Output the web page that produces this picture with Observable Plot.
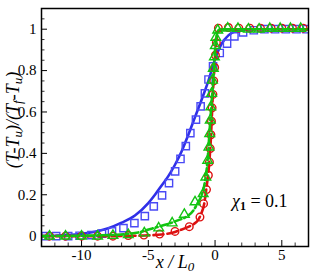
<!DOCTYPE html>
<html><head><meta charset="utf-8">
<script src="https://cdn.jsdelivr.net/npm/d3@7"></script>
<script src="https://cdn.jsdelivr.net/npm/@observablehq/plot@0.6"></script>
<style>body{margin:0;background:#fff}</style>
</head><body><div id="chart"></div>
<script>
// ---- data ----
const blueLineX = [-13, -12, -11, -10, -9, -8, -7, -6, -5, -4.5, -4, -3.5, -3, -2.5, -2, -1.5, -1, -0.5, 0, 0.5, 1, 1.5, 2, 3, 4, 5, 6, 7];
const blueLineY = [0, 0.002, 0.005, 0.011, 0.021, 0.038, 0.065, 0.1, 0.16, 0.2, 0.245, 0.29, 0.345, 0.41, 0.49, 0.575, 0.66, 0.75, 0.855, 0.93, 0.97, 0.99, 0.997, 1, 1, 1, 1, 1];

const blueSqX = [-12.7, -11.9, -11.0, -10.15, -9.26, -8.47, -7.72, -6.86, -6.04, -5.26, -4.59, -3.97, -3.45, -2.99, -2.59, -2.19, -1.85, -1.43, -1.08, -0.76, -0.49, -0.15, 0.35, 0.9, 1.45, 2.1, 2.9, 3.7, 4.5, 5.3, 6.1, 6.85];
const blueSqY = [0, 0, 0, 0.002, 0.005, 0.012, 0.023, 0.039, 0.063, 0.097, 0.144, 0.197, 0.256, 0.313, 0.373, 0.435, 0.498, 0.563, 0.627, 0.69, 0.757, 0.82, 0.885, 0.93, 0.965, 0.985, 0.995, 1, 1, 1, 1, 1];

const redLineX = [-13, -8, -6, -5, -4, -3, -2.8, -2, -1.56, -1.3, -1.06, -0.81, -0.64, -0.44, -0.32, -0.24, -0.15, -0.04, 0.05, 0.15, 0.3, 0.6, 1, 7];
const redLineY = [0, 0, 0.002, 0.004, 0.008, 0.02, 0.025, 0.045, 0.06, 0.075, 0.105, 0.157, 0.235, 0.35, 0.463, 0.576, 0.705, 0.818, 0.914, 0.97, 0.995, 1, 1, 1];

const redCircX = [-12.4, -11.2, -10.0, -8.8, -7.65, -6.5, -5.33, -4.15, -3.0, -1.93, -1.13, -0.86, -0.64, -0.5, -0.42, -0.36, -0.31, -0.27, -0.22, -0.16, -0.1, -0.03, 0.03, 0.1, 0.25, 1.0, 1.78, 2.6, 3.4, 4.2, 5.0, 5.8, 6.6];
const redCircY = [0, 0, 0, 0, 0, 0.003, 0.005, 0.01, 0.023, 0.046, 0.092, 0.157, 0.225, 0.294, 0.358, 0.423, 0.49, 0.555, 0.62, 0.685, 0.75, 0.815, 0.874, 0.935, 1.005, 1.008, 1.005, 1.005, 1.005, 1.005, 1.005, 1.005, 1.005];

const greenLineX = [-13, -8, -6, -4.76, -4, -2.79, -2, -1.67, -1.3, -1.06, -0.74, -0.56, -0.44, -0.32, -0.19, -0.07, 0, 0.1, 0.2, 0.4, 7];
const greenLineY = [0, 0.005, 0.015, 0.036, 0.05, 0.076, 0.1, 0.12, 0.16, 0.189, 0.27, 0.366, 0.479, 0.592, 0.705, 0.818, 0.9, 0.96, 0.99, 1, 1];

const greenTriX = [-12.4, -11.2, -10.0, -8.8, -7.65, -6.5, -5.3, -4.22, -3.21, -2.3, -1.5, -0.89, -0.69, -0.55, -0.46, -0.4, -0.36, -0.32, -0.26, -0.2, -0.13, -0.05, 0.02, 0.06, 0.2, 0.95, 1.72, 2.5, 3.3, 4.1, 4.88, 5.65, 6.42];
const greenTriY = [0, 0, 0, 0, 0.003, 0.007, 0.015, 0.039, 0.063, 0.105, 0.165, 0.205, 0.285, 0.366, 0.43, 0.495, 0.56, 0.624, 0.689, 0.753, 0.81, 0.866, 0.92, 0.96, 0.995, 1.005, 1.003, 1, 1, 1.003, 1.003, 1.003, 1.003];

const xTicks = [-10, -5, 0, 5];
const xMinor = [-12, -11, -9, -8, -7, -6, -4, -3, -2, -1, 1, 2, 3, 4, 6];
const yTicks = [0, 0.2, 0.4, 0.6, 0.8, 1];
const yMinor = [-0.05, 0.05, 0.1, 0.15, 0.25, 0.3, 0.35, 0.45, 0.5, 0.55, 0.65, 0.7, 0.75, 0.85, 0.9, 0.95, 1.05];
const xDomain = [-13, 7];
const yDomain = [-0.05, 1.1];
const annotation = {chi: "χ", sub: "1", rest: " = 0.1"};

// ---- layout ----
const W = 315, H = 280;
const mL = 41, mR = 7, mT = 8, mB = 34;
const kx = (W - mL - mR) / (xDomain[1] - xDomain[0]);
const ky = (H - mT - mB) / (yDomain[1] - yDomain[0]);
const major = 6, minor = 3.5;

const zip = (xs, ys) => xs.map((x, i) => ({x, y: ys[i]}));
const blue = "#2f2fe8", blueM = "#4a4af5", red = "#dd1111", green = "#11c411";
const serif = "Liberation Serif";

const chart = Plot.plot({
  width: W, height: H,
  marginLeft: mL, marginRight: mR, marginTop: mT, marginBottom: mB,
  style: {fontFamily: serif, background: "white"},
  x: {domain: xDomain},
  y: {domain: yDomain},
  marks: [
    Plot.axisX({ticks: xTicks, tickSize: 0, tickPadding: 3, tickFormat: d => String(d), fontSize: 15, label: null}),
    Plot.axisY({ticks: yTicks, tickSize: 0, tickPadding: 5, tickFormat: d => String(d), fontSize: 15, label: null}),
    Plot.ruleX(xTicks, {x: d => d, y1: yDomain[0], y2: yDomain[0] + major / ky, stroke: "black", strokeWidth: 1}),
    Plot.ruleX(xMinor, {x: d => d, y1: yDomain[0], y2: yDomain[0] + minor / ky, stroke: "black", strokeWidth: 0.8}),
    Plot.ruleY(yTicks, {y: d => d, x1: xDomain[0], x2: xDomain[0] + major / kx, stroke: "black", strokeWidth: 1}),
    Plot.ruleY(yMinor, {y: d => d, x1: xDomain[0], x2: xDomain[0] + minor / kx, stroke: "black", strokeWidth: 0.8}),
    Plot.line(zip(blueLineX, blueLineY), {x: "x", y: "y", stroke: blue, strokeWidth: 2.6, curve: "monotone-x", clip: true}),
    Plot.dot(zip(blueSqX, blueSqY), {x: "x", y: "y", symbol: "square", r: 4.1, stroke: blueM, strokeWidth: 1.4, fill: "none", clip: true}),
    Plot.line(zip(redLineX, redLineY), {x: "x", y: "y", stroke: red, strokeWidth: 2.6, strokeDasharray: "10,4", curve: "monotone-x", clip: true}),
    Plot.dot(zip(redCircX, redCircY), {x: "x", y: "y", symbol: "circle", r: 3.8, stroke: red, strokeWidth: 1.4, fill: "none", clip: true}),
    Plot.line(zip(greenLineX, greenLineY), {x: "x", y: "y", stroke: green, strokeWidth: 2.6, strokeDasharray: "7,3,2,3", curve: "monotone-x", clip: true}),
    Plot.dot(zip(greenTriX, greenTriY), {x: "x", y: "y", symbol: "triangle", r: 3.6, stroke: green, strokeWidth: 1.4, fill: "none", clip: true}),
    Plot.frame({stroke: "black", strokeWidth: 1.5})
  ]
});

const svg = d3.select(chart);
// y axis label
const yl = svg.append("text")
  .attr("transform", "translate(19,120) rotate(-90)")
  .attr("text-anchor", "middle")
  .attr("font-family", serif).attr("font-style", "italic").attr("font-size", 18).attr("fill", "black");
const parts = [["(T-T", false], ["u", true], [")/(T", false], ["f", true], ["-T", false], ["u", true], [")", false]];
parts.forEach(([t, sub]) => {
  yl.append("tspan").text(t)
    .attr("baseline-shift", sub ? "-25%" : null)
    .attr("font-size", sub ? 13 : null);
});
// x axis label
const xl = svg.append("text")
  .attr("x", 175).attr("y", 268)
  .attr("text-anchor", "middle")
  .attr("font-family", serif).attr("font-style", "italic").attr("font-size", 18).attr("fill", "black");
xl.append("tspan").text("x / L");
xl.append("tspan").text("0").attr("baseline-shift", "-25%").attr("font-size", 13);
// annotation
const an = svg.append("text")
  .attr("x", 232).attr("y", 207)
  .attr("text-anchor", "start")
  .attr("font-family", serif).attr("font-size", 18).attr("fill", "black");
an.append("tspan").text(annotation.chi).attr("font-style", "italic");
an.append("tspan").text(annotation.sub).attr("baseline-shift", "-25%").attr("font-size", 12).attr("font-weight", "bold");
an.append("tspan").text(annotation.rest);

document.getElementById("chart").appendChild(chart);
</script>
</body></html>
